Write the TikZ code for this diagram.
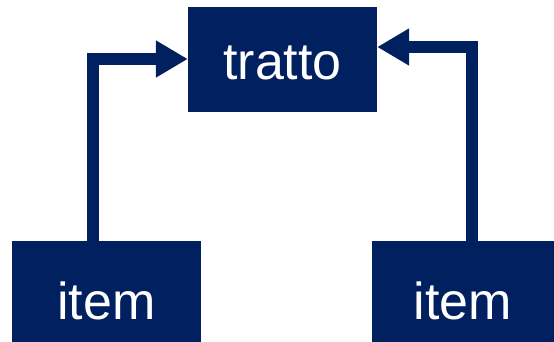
\documentclass[tikz,border=0pt]{standalone}
\usepackage{fontspec}
\setmainfont{Liberation Sans}
\usetikzlibrary{arrows.meta}
\definecolor{navy}{RGB}{0,32,96}
\begin{document}
\begin{tikzpicture}[x=1pt,y=1pt,
  box/.style={draw=none,fill=navy,text=white,inner sep=0pt,text depth=0pt,font=\fontsize{52}{60}\selectfont},
  conn/.style={draw=navy,line width=12pt,line join=miter,-{Triangle[length=32pt,width=35pt]}}]
\useasboundingbox (0,0) rectangle (554,-342);
\node[box,minimum width=189pt,minimum height=105pt,text height=41pt] (tratto) at (282.5,-59.5) {tratto};
\node[box,minimum width=189pt,minimum height=101pt,text height=55pt] (litem) at (106.5,-291.5) {item};
\node[box,minimum width=182pt,minimum height=101pt,text height=55pt] (ritem) at (463,-291.5) {item};
\coordinate (lc) at (93,-59);
\coordinate (rc) at (472,-47);
\draw[conn] (lc |- litem.north) -- (lc) -- (lc -| tratto.west);
\draw[conn] (rc |- ritem.north) -- (rc) -- (rc -| tratto.east);
\end{tikzpicture}
\end{document}
